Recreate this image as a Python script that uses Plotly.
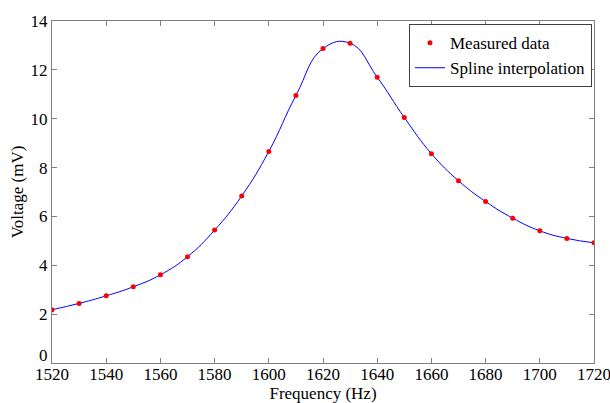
import plotly.graph_objects as go

freq = [1520, 1530, 1540, 1550, 1560, 1570, 1580, 1590, 1600, 1610, 1620,
        1630, 1640, 1650, 1660, 1670, 1680, 1690, 1700, 1710, 1720]
voltage = [2.18, 2.44, 2.75, 3.12, 3.61, 4.35, 5.44, 6.84, 8.66, 10.95, 12.87,
           13.09, 11.70, 10.05, 8.57, 7.46, 6.61, 5.93, 5.41, 5.10, 4.92]
x_ticks = [1520, 1540, 1560, 1580, 1600, 1620, 1640, 1660, 1680, 1700, 1720]
y_ticks = [2, 4, 6, 8, 10, 12, 14]
y_zero_label = "0"

font_family = "Liberation Serif, Times New Roman, serif"
fs = 17

fig = go.Figure()
fig.add_trace(go.Scatter(
    x=freq, y=voltage, mode="lines", name="Spline interpolation",
    line=dict(color="#0000ff", width=1, shape="spline", smoothing=1.3),
))
fig.add_trace(go.Scatter(
    x=freq, y=voltage, mode="markers", name="Measured data",
    marker=dict(color="#ff0000", size=5),
))

axis_common = dict(
    showline=True, linecolor="#808080", linewidth=1, mirror="ticks",
    ticks="inside", ticklen=5, tickcolor="#808080",
    showgrid=False, zeroline=False, automargin=False,
    ticklabeloverflow="allow",
    tickfont=dict(family=font_family, size=fs, color="black"),
)

fig.update_layout(
    width=610, height=403,
    margin=dict(l=52, r=16, t=21, b=40),
    paper_bgcolor="white", plot_bgcolor="white",
    font=dict(family=font_family, size=fs, color="black"),
    xaxis=dict(range=[1520, 1720], tickvals=x_ticks, ticklabelstandoff=-4,
               title=dict(text="Frequency (Hz)", standoff=4,
                          font=dict(family=font_family, size=fs)),
               **axis_common),
    yaxis=dict(range=[0, 14], tickvals=y_ticks,
               title=dict(text="Voltage (mV)", standoff=2,
                          font=dict(family=font_family, size=fs)),
               **axis_common),
    legend=dict(
        x=0.9963, y=0.991, xanchor="right", yanchor="top",
        bgcolor="white", bordercolor="#404040", borderwidth=1,
        font=dict(family=font_family, size=fs),
        traceorder="reversed", tracegroupgap=0,
        itemwidth=30,
    ),
    annotations=[dict(
        x=0, y=0, xref="paper", yref="y", text=y_zero_label,
        xanchor="right", yanchor="middle", xshift=-2, yshift=8,
        showarrow=False, font=dict(family=font_family, size=fs, color="black"),
    )],
)

fig.write_html("out.html",
               config={"displayModeBar": False},
               post_script="document.body.style.margin='0';document.body.style.overflow='hidden';")
